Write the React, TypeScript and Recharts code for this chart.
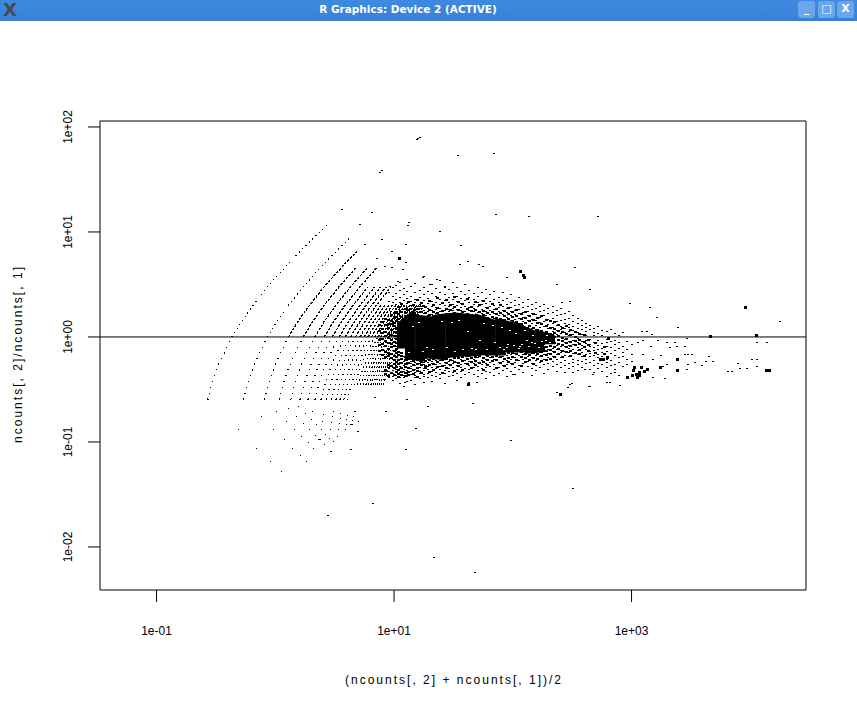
import React from 'react';
import { ScatterChart, Scatter, XAxis, YAxis, ReferenceLine, ReferenceArea } from 'recharts';

const xTicks = [0.1, 10, 1000];
const xTickLabels = ['1e-01', '1e+01', '1e+03'];
const yTicks = [100, 10, 1, 0.1, 0.01];
const yTickLabels = ['1e+02', '1e+01', '1e+00', '1e-01', '1e-02'];
const xDomain = [0.0334, 29450];
const yDomain = [0.00389, 114];

// ratio levels shared by the count arcs
const arcRatios = [0.25, 0.35, 0.5, 0.7, 1, 1.4, 2, 3, 4.5, 6.5, 9, 12];
const arcMeans = [
  [.27,.29,.32,.37,.43,.52,.65,.86,1.18,1.61,2.15,2.8],
  [.54,.58,.65,.73,.86,1.03,1.29,1.72,2.37,3.23,4.3],
  [.81,.87,.97,1.10,1.29,1.55,1.94,2.58,3.55,4.84],
  [1.08,1.16,1.29,1.46,1.72,2.06,2.58,3.44,4.73],
  [1.34,1.45,1.61,1.83,2.15,2.58,3.23,4.3,5.91],
  [1.61,1.74,1.94,2.19,2.58,3.10,3.87,5.16,7.1],
  [1.88,2.03,2.26,2.56,3.01,3.61,4.52,6.02],
  [2.15,2.32,2.58,2.92,3.44,4.13,5.16,6.88],
  [2.42,2.61,2.9,3.29,3.87,4.64,5.81,7.74],
  [2.69,2.9,3.23,3.66,4.3,5.16,6.45,8.6],
  [2.96,3.19,3.55,4.02,4.73,5.68,7.1,9.46],
  [3.23,3.48,3.87,4.39,5.16,6.19,7.74],
  [3.49,3.77,4.19,4.75,5.59,6.71,8.39],
  [3.76,4.06,4.52,5.12,6.02,7.22,9.03],
  [4.03,4.35,4.84,5.48,6.45,7.74,9.68],
];
// these arcs start at the second ratio level
const arcMeansUpper = [
  [4.64,5.16,5.85,6.88,8.26,10.3],
  [4.93,5.48,6.21,7.31,8.77,11],
  [5.22,5.81,6.58,7.74,9.29,11.6],
  [5.51,6.13,6.94,8.17,9.8,12.3],
  [5.8,6.45,7.31,8.6,10.3,12.9],
  [6.09,6.77,7.68,9.03,10.8,13.5],
  [6.39,7.1,8.04,9.46,11.4,14.2],
  [6.68,7.42,8.41,9.89,11.9,14.8],
  [6.95,7.73,8.76,10.3,12.4,15.5],
  [7.26,8.06,9.14,10.75,12.9,16.1],
  [7.56,8.4,9.52,11.2,13.4,16.8],
  [7.83,8.7,9.86,11.6,13.9,17.4],
  [8.1,9,10.2,12,14.4,18],
];

// low-ratio lattice dots: [mean, ratio]
const latticeDots = [
  [.27,.262],[.54,.262],[.81,.262],[1.09,.262],[1.36,.262],[1.63,.262],[1.9,.262],[2.17,.262],[2.44,.262],[2.71,.262],[2.99,.262],[3.26,.262],[3.53,.262],[3.8,.262],
  [.486,.131],[.701,.0873],[.916,.0655],[1.13,.0524],
  [.758,.175],[.973,.131],[1.19,.105],[1.40,.0873],[1.62,.0749],[1.83,.0655],
  [1.03,.197],[1.24,.157],[1.46,.131],[1.67,.112],[1.89,.098],[2.10,.0873],
  [1.30,.21],[1.52,.175],[1.73,.15],[1.95,.131],[2.16,.116],[2.38,.105],[2.59,.095],
  [1.57,.218],[1.79,.187],[2.0,.164],[2.22,.146],[2.43,.131],[2.65,.119],[2.86,.109],[3.08,.101],
  [2.06,.197],[2.49,.157],[2.92,.131],[3.35,.112],
  [2.54,.183],[2.97,.153],[3.4,.131],
  [3.03,.175],[3.46,.15],[3.89,.131],
  [3.09,.197],[3.52,.168],[3.95,.147],
  [3.57,.187],[4.0,.164],[4.43,.146],
  [4.06,.18],[4.49,.16],[4.55,.175],[4.98,.157],
];

// dense core of the cloud, log10 values per column
const coreLogMean = [1.067,1.134,1.219,1.303,1.387,1.472,1.556,1.64,1.724,1.808,1.893,1.977,2.061,2.145,2.23,2.314];
const coreLogTop = [.11,.17,.16,.15,.17,.18,.18,.17,.16,.13,.12,.10,.07,.03,.01,-.02];
const coreLogBottom = [-.11,-.17,-.18,-.16,-.17,-.15,-.14,-.14,-.13,-.13,-.13,-.10,-.10,-.11,-.10,-.07];

// gaps inside the core, log10 pairs
const coreGaps = [[1.58,-.124],[1.78,-.124],[1.28,-.105],[1.49,.133],[1.55,.16],[1.72,-.029],[2.06,-.095],[2.12,-.029],[2.2,.095],[2.28,-.029],[1.85,-.057],[1.96,-.076],[1.89,-.105],[1.45,-.105],[1.33,-.124],[1.62,.05],[1.16,.1],[1.24,-.14],
  [1.66,-.11],[1.69,-.12],[1.93,-.12],[2.01,-.08],[2.03,.03],[2.08,-.07],[2.1,.06],[2.14,-.09],[2.17,.01],[2.19,-.06],[2.22,-.1],[2.25,-.04],[2.27,-.08],[2.29,.01],[2.31,-.05],[1.98,.06],[1.91,.09],[1.83,.11],[1.76,.13],[1.51,-.14],[1.4,.15],[1.21,.14],[1.13,-.15],[2.16,-.05],[2.05,-.11],[1.95,-.1]];

// fringe of the cloud: [log10 mean, log10 ratios in that column]
const fringeColumns: [number, number[]][] = [
  [.96,[-.30,-.33,-.36,-.39,.34,.42]],
  [.99,[.47,.39,.33,-.29,-.32,-.35,-.38,-.41]],
  [1.02,[.49,.41,.36,.31,.27,-.27,-.31,-.33,-.37,-.40]],
  [1.05,[.52,.44,.38,.33,.28,.25,-.21,-.24,-.28,-.30,-.34,-.36,-.39,-.44]],
  [1.08,[.46,.40,.35,.30,.26,-.19,-.23,-.27,-.31,-.33,-.37,-.39,-.47]],
  [1.11,[.55,.43,.37,.32,.28,.25,-.22,-.24,-.26,-.29,-.32,-.35,-.38,-.42]],
  [1.145,[.48,.39,.34,.30,.26,.23,-.23,-.25,-.28,-.30,-.33,-.36,-.41]],
  [1.18,[.51,.42,.36,.33,.28,.25,-.24,-.27,-.31,-.34,-.37,-.39,-.45]],
  [1.215,[.44,.38,.31,.27,.23,-.23,-.25,-.29,-.33,-.35,-.40]],
  [1.25,[.58,.47,.40,.35,.29,.25,.22,-.24,-.26,-.30,-.32,-.36,-.38,-.43]],
  [1.285,[.43,.37,.32,.27,.24,.20,-.21,-.24,-.28,-.31,-.35,-.39]],
  [1.32,[.50,.41,.34,.29,.25,.21,-.20,-.23,-.25,-.29,-.33,-.37,-.42]],
  [1.355,[.46,.39,.33,.28,.26,.22,-.22,-.26,-.30,-.34,-.38]],
  [1.39,[.54,.42,.36,.31,.27,.24,-.22,-.25,-.28,-.31,-.36,-.40]],
  [1.425,[.48,.40,.35,.30,.25,-.21,-.24,-.27,-.32,-.35,-.44]],
  [1.46,[.45,.38,.33,.29,.26,.24,-.20,-.23,-.26,-.30,-.33,-.38]],
  [1.495,[.52,.41,.36,.31,.27,.25,-.19,-.22,-.25,-.29,-.34,-.37]],
  [1.53,[.47,.39,.34,.30,.26,-.19,-.24,-.27,-.31,-.35,-.41]],
  [1.565,[.43,.37,.32,.28,.25,-.18,-.21,-.26,-.29,-.33,-.39]],
  [1.6,[.50,.40,.35,.29,.24,-.18,-.22,-.25,-.30,-.36]],
  [1.635,[.44,.38,.33,.28,.25,-.19,-.23,-.27,-.31,-.34,-.43]],
  [1.67,[.41,.36,.31,.27,.24,-.18,-.21,-.25,-.29,-.36]],
  [1.705,[.47,.39,.33,.29,.23,-.17,-.20,-.24,-.28,-.32,-.38]],
  [1.74,[.42,.35,.31,.26,.22,-.17,-.22,-.26,-.30,-.35]],
  [1.775,[.45,.37,.32,.28,.24,.20,-.18,-.21,-.25,-.29,-.33,-.40]],
  [1.81,[.40,.34,.29,.25,.21,-.17,-.20,-.24,-.28,-.34]],
  [1.845,[.43,.36,.30,.26,.22,.18,-.17,-.21,-.26,-.31,-.37]],
  [1.88,[.38,.33,.28,.24,.20,-.17,-.20,-.24,-.29,-.35]],
  [1.915,[.42,.35,.29,.25,.21,.17,-.16,-.19,-.23,-.27,-.32]],
  [1.95,[.37,.31,.27,.23,.19,-.14,-.18,-.22,-.26,-.30,-.38]],
  [1.985,[.40,.33,.28,.24,.20,.16,-.13,-.17,-.21,-.25,-.33]],
  [2.02,[.35,.30,.25,.21,.17,.14,-.13,-.16,-.20,-.24,-.29,-.36]],
  [2.055,[.38,.31,.26,.22,.18,.13,-.14,-.18,-.22,-.27,-.31]],
  [2.09,[.33,.28,.23,.19,.15,.11,-.14,-.17,-.21,-.25,-.34]],
  [2.125,[.36,.29,.24,.20,.16,.09,-.15,-.19,-.23,-.28]],
  [2.16,[.31,.26,.22,.17,.13,.08,-.16,-.20,-.25,-.30,-.37]],
  [2.195,[.33,.27,.21,.16,.11,.07,-.14,-.18,-.22,-.27,-.32]],
  [2.23,[.29,.24,.19,.14,.09,.05,-.15,-.19,-.24,-.29]],
  [2.265,[.31,.25,.20,.15,.10,.04,-.13,-.17,-.21,-.26,-.35]],
  [2.3,[.27,.22,.17,.12,.08,.03,-.12,-.16,-.20,-.25,-.31]],
  [2.335,[.29,.23,.18,.13,.09,.05,.02,-.11,-.14,-.19,-.23,-.28]],
  [2.37,[.25,.20,.15,.11,.06,.02,-.08,-.12,-.17,-.21,-.26,-.33]],
  [2.405,[.27,.21,.16,.10,.07,.03,-.09,-.13,-.15,-.20,-.24,-.29]],
  [2.44,[.22,.17,.13,.08,.04,-.02,-.05,-.09,-.14,-.18,-.22,-.27,-.34]],
  [2.475,[.24,.18,.12,.09,.05,.01,-.04,-.08,-.11,-.15,-.19,-.25,-.30]],
  [2.51,[.20,.15,.10,.06,.02,-.03,-.07,-.12,-.16,-.21,-.24,-.28]],
  [2.545,[.18,.13,.08,.04,-.01,-.05,-.10,-.13,-.17,-.22,-.26,-.32]],
  [2.58,[.16,.11,.07,.02,-.04,-.08,-.11,-.15,-.19,-.23,-.29]],
  [2.615,[.13,.09,.05,.01,-.03,-.06,-.12,-.17,-.21,-.25]],
  [2.65,[.11,.07,-.02,-.07,-.09,-.14,-.16,-.19,-.24,-.31]],
  [2.685,[.08,.04,.01,-.05,-.10,-.13,-.18,-.22,-.27,-.34]],
  [2.72,[.10,.03,-.03,-.08,-.12,-.17,-.20,-.25,-.30]],
  [2.755,[.06,.01,-.06,-.11,-.15,-.19,-.26,-.33]],
  [2.79,[.05,-.02,-.05,-.09,-.14,-.21,-.24,-.29]],
  [2.825,[.07,-.04,-.10,-.16,-.22,-.27,-.35]],
  [2.86,[.03,-.03,-.07,-.13,-.18,-.26,-.31]],
  [2.895,[.01,-.05,-.11,-.20,-.24,-.37]],
  [2.93,[.04,-.09,-.15,-.19,-.28]],
  [2.965,[-.04,-.12,-.21,-.26]],
  [3.0,[-.07,-.17,-.23]],
];

// the thicker inner band around the core and the merged zone left of it
const bandColumns: [number, number[]][] = [
  [.875,[.11,.06,-.03,-.08,-.13]],
  [.905,[.14,.08,.04,-.02,-.07,-.12,-.17]],
  [.93,[.17,.11,.05,.01,-.04,-.09,-.14,-.19,-.31,-.35]],
  [.955,[.16,.12,.09,.03,-.01,-.06,-.11,-.15,-.18,-.27,-.37]],
  [.98,[.21,.15,.12,.07,.02,-.03,-.07,-.1,-.16,-.2,-.28,-.34]],
  [1.0,[.23,.18,.13,.1,.05,.01,-.05,-.09,-.13,-.18,-.22,-.26,-.3,-.36]],
  [1.02,[.24,.19,.15,.09,.04,-.02,-.06,-.11,-.15,-.19,-.24,-.29,-.33]],
  [1.04,[.29,.22,.17,.13,-.14,-.17,-.22,-.26,-.31,-.35,-.38]],
  [1.065,[.31,.24,.19,.14,-.15,-.18,-.21,-.25,-.3,-.33,-.36]],
  [1.095,[.27,.23,.2,.16,-.19,-.22,-.26,-.29,-.34,-.37]],
  [1.125,[.33,.26,.21,.18,-.18,-.21,-.25,-.3,-.33,-.36]],
  [1.16,[.3,.24,.2,.17,-.2,-.23,-.27,-.31,-.35]],
  [1.195,[.35,.27,.21,-.2,-.22,-.26,-.3,-.32,-.38]],
  [1.23,[.32,.24,.19,-.19,-.24,-.27,-.34]],
  [1.265,[.29,.23,.19,-.2,-.23,-.28,-.3]],
  [1.3,[.34,.26,.21,.18,-.18,-.22,-.27,-.33]],
  [1.335,[.3,.24,.2,-.19,-.21,-.26,-.31]],
  [1.37,[.37,.28,.23,.19,-.2,-.24,-.29]],
  [1.405,[.32,.25,.21,-.19,-.22,-.28,-.34]],
  [1.44,[.35,.27,.22,-.18,-.21,-.25,-.3]],
  [1.475,[.3,.26,.21,-.17,-.22,-.27]],
  [1.51,[.38,.29,.23,.2,-.17,-.2,-.24,-.32]],
  [1.545,[.33,.26,.22,-.16,-.2,-.25,-.28]],
  [1.58,[.31,.24,.21,-.16,-.19,-.23,-.31]],
  [1.615,[.36,.27,.22,-.17,-.21,-.26]],
  [1.65,[.29,.25,.21,-.16,-.2,-.24,-.3]],
  [1.685,[.33,.26,.2,-.16,-.19,-.23,-.27]],
  [1.72,[.3,.24,.19,-.15,-.18,-.25]],
  [1.755,[.34,.25,.21,.18,-.15,-.2,-.24,-.31]],
  [1.79,[.28,.23,.18,-.15,-.18,-.22,-.27]],
  [1.825,[.31,.24,.19,.15,-.15,-.19,-.23]],
  [1.86,[.27,.22,.18,.15,-.15,-.18,-.22,-.3]],
  [1.895,[.3,.23,.17,.14,-.15,-.19,-.25]],
  [1.93,[.25,.2,.16,-.12,-.16,-.21,-.28]],
  [1.965,[.28,.22,.17,.12,-.13,-.15,-.2,-.24]],
  [2.0,[.24,.19,.15,.1,-.12,-.15,-.19,-.26]],
  [2.035,[.26,.2,.14,.09,-.12,-.16,-.22]],
  [2.07,[.22,.17,.12,.08,-.12,-.14,-.19,-.28]],
  [2.105,[.24,.18,.13,.07,-.13,-.16,-.2,-.24]],
  [2.14,[.2,.15,.1,.05,-.13,-.17,-.22]],
  [2.175,[.22,.16,.09,.04,-.12,-.15,-.2,-.26]],
  [2.21,[.18,.13,.07,.03,-.12,-.16,-.21]],
  [2.245,[.2,.12,.06,.02,-.11,-.14,-.18,-.23]],
  [2.28,[.16,.1,.05,.01,-.1,-.13,-.17,-.22]],
  [2.315,[.15,.09,.03,-.01,-.09,-.12,-.16,-.21]],
  [2.35,[.14,.08,.04,0,-.06,-.1,-.14,-.19]],
  [2.385,[.11,.06,.01,-.03,-.07,-.11,-.16]],
  [2.42,[.09,.05,-.01,-.04,-.08,-.13,-.19]],
  [2.455,[.1,.03,-.02,-.06,-.1,-.14]],
  [2.49,[.07,.02,-.05,-.09,-.13,-.18]],
  [2.525,[.05,0,-.04,-.08,-.15]],
  [2.56,[.03,-.03,-.07,-.12,-.16]],
  [2.6,[.02,-.05,-.1,-.18]],
  [2.64,[-.03,-.08,-.13]],
  [2.7,[-.06,-.15]],
  [2.77,[-.1,-.16]],
];

// isolated points, log10 pairs
const looseDots = [
  [1.202,1.886],[1.219,1.895],[1.194,1.876],[1.539,1.733],[1.842,1.743],[.882,1.562],[.899,1.581],[.562,1.21],[.815,1.19],[.714,1.067],
  [1.126,1.086],[1.118,1.057],[.899,.924],[1.101,.876],[.983,.657],[.924,.667],[1.076,.638],[1.101,.705],[.857,.752],[.983,.81],
  [1.034,.524],[.966,.476],[1.859,1.162],[2.137,1.143],[2.718,1.143],[1.564,.867],[1.387,1.0],[1.716,.686],[2.524,.657],[2.372,.495],
  [2.415,.324],[2.65,.448],[1.244,.571],[1.623,.714],[1.749,.667],[1.556,.686],[1.951,.562],[1.429,.467],[1.362,.543],[1.303,.495],[.756,.876],
  [.444,-1.705],[.823,-1.59],[1.337,-2.105],[1.682,-2.248],[2.507,-1.448],[1.985,-.99],[2.372,-.533],[1.699,-.438],[2.002,-.362],[1.109,-.6],
  [1.665,-.629],[1.286,-.667],[2.482,-.457],[2.65,-.476],[1.093,-.438],[.672,-.714],[.932,-.714],[.696,-.905],[.638,-.829],[.368,-.981],
  [.84,-.581],[.638,-1.076],[.47,-1.095],[1.185,-.876],[1.101,-1.076],
  [2.482,.333],[2.987,.314],[3.155,.276],[3.214,.19],[4.25,.143],[3.39,.086],[3.088,.048],[3.13,.048],[3.171,.019],[3.097,-.029],[3.223,-.038],
  [3.298,-.048],[3.366,-.048],[3.467,-.01],[3.45,-.095],[3.383,-.095],[3.163,-.095],[3.324,-.105],[3.055,-.057],[3.097,-.171],[3.45,-.171],
  [3.476,-.171],[3.509,-.171],[3.534,-.248],[3.476,-.267],[3.467,-.314],[3.298,-.267],[3.265,-.286],[3.248,-.181],[3.18,-.219],[3.627,-.229],
  [3.686,-.238],[3.652,-.19],[3.593,-.276],[3.896,-.257],[4.014,-.219],[4.056,-.21],[4.056,-.286],[3.972,-.305],[3.913,-.305],[3.812,-.333],
  [3.846,-.333],[4.056,-.057],[4.139,-.048],[3.282,-.4],[3.18,-.39],[2.794,-.381],[2.794,-.438],[2.819,-.429],[2.903,-.467],[2.642,-.476],
  [2.499,-.448],[2.465,-.486],[2.861,-.343],[2.676,-.362],[2.507,-.343],[2.608,-.314],
];
const heavyDots = [
  [1.042,.752],[2.086,.59],[2.069,.619],[2.095,.562],[2.398,-.552],[1.623,-.457],[3.963,.276],[4.056,.01],[3.669,0],[3.383,-.219],[3.383,-.324],
  [4.139,-.324],[4.164,-.324],[3.248,-.295],[2.802,-.01],[2.97,-.39],[3.004,-.371],[3.038,-.362],[3.071,-.343],[3.105,-.333],[3.138,-.314],
  [3.071,-.371],[3.046,-.39],[3.013,-.324],[3.088,-.295],[3.029,-.295],[2.735,-.219],[2.76,-.219],[2.794,-.2],
];

const fromLog = (pairs: number[][]) => pairs.map(([a, b]) => ({ x: 10 ** a, y: 10 ** b }));
const fromLinear = (pairs: number[][]) => pairs.map(([a, b]) => ({ x: a, y: b }));
const flatten = (cols: [number, number[]][]) => fromLog(cols.flatMap(([m, rs]) => rs.map((r) => [m, r])));
const fringeRows = flatten(fringeColumns);
const bandRows = flatten(bandColumns);
const coreRows = fromLog(
  coreLogMean.flatMap((m, i) =>
    i % 2 === 0
      ? [[m, coreLogBottom[i]], [m, coreLogTop[i]]]
      : [[m, coreLogTop[i]], [m, coreLogBottom[i]]]
  )
);
const allArcs = [
  ...arcMeans.map((means) => ({ means, ratios: arcRatios })),
  ...arcMeansUpper.map((means) => ({ means, ratios: arcRatios.slice(1) })),
];
const arcParts = allArcs.map(({ means, ratios }) => {
  const rows = means.map((m, i) => ({ x: m, y: ratios[i] }));
  const split = rows.findIndex((r) => r.y === 1);
  return { lower: rows.slice(0, split + 1), upper: rows.slice(split) };
});

const dot = (w: number, h: number, fill: string) => (p: any) =>
  p.cx == null ? <g /> : <rect x={p.cx - w / 2} y={p.cy - h / 2} width={w} height={h} fill={fill} shapeRendering="crispEdges" />;
const none = () => <g />;
const font = '"Liberation Sans", Arial, sans-serif';

const XTick = (p: any) => (
  <text x={p.x} y={p.y} textAnchor="middle" dominantBaseline="middle" fontSize={12} fontFamily={font} fill="#000">
    {xTickLabels[p.index]}
  </text>
);
const YTick = (p: any) => (
  <text x={p.x} y={p.y} textAnchor="middle" dominantBaseline="middle" fontSize={12} fontFamily={font} fill="#000"
    transform={`rotate(-90 ${p.x} ${p.y})`}>
    {yTickLabels[p.index]}
  </text>
);

export default function App() {
  return (
    <div style={{ position: 'absolute', left: 0, top: 0, width: 857, height: 715, background: '#fff', overflow: 'hidden' }}>
      <div style={{ position: 'absolute', left: 0, top: 0, width: 857, height: 21, background: 'linear-gradient(#3f8ae0,#3880d8)' }}>
        <div style={{ position: 'absolute', left: 3, top: 0, fontFamily: '"DejaVu Sans"', fontWeight: 700, fontSize: 18, lineHeight: '20px', color: '#47494f' }}>X</div>
        <div style={{ position: 'absolute', left: 0, width: 816, top: 0, textAlign: 'center', fontFamily: '"DejaVu Sans"', fontWeight: 700, fontSize: 10.5, lineHeight: '19px', color: '#fff' }}>
          R Graphics: Device 2 (ACTIVE)
        </div>
        {[['_', 798], ['□', 818], ['X', 837]].map(([g, l]) => (
          <div key={g as string} style={{ position: 'absolute', left: l as number, top: 1, width: 17, height: 17, borderRadius: 3, background: '#6ba5ea', color: '#fff', textAlign: 'center', fontFamily: '"DejaVu Sans"', fontWeight: 700, fontSize: 11, lineHeight: '16px' }}>
            {g}
          </div>
        ))}
      </div>
      <ScatterChart width={857} height={715} margin={{ top: 121, right: 51, bottom: 0, left: 0 }}>
        <XAxis type="number" dataKey="x" scale="log" domain={xDomain} ticks={xTicks} interval={0} allowDataOverflow
          height={125} tickSize={12} tickMargin={30} tick={XTick} stroke="#000" axisLine={false} />
        <YAxis type="number" dataKey="y" scale="log" domain={yDomain} ticks={yTicks} interval={0} allowDataOverflow
          width={100} tickSize={12} tickMargin={19} tick={YTick} stroke="#000" axisLine={false} />
        {arcParts.map((arc, i) => (
          <Scatter key={`l${i}`} data={arc.lower} shape={none} isAnimationActive={false}
            line={{ stroke: '#000', strokeWidth: 1.2, shapeRendering: 'crispEdges', strokeDasharray: i < 8 ? '1.2 5' : i < 16 ? '1.2 4' : '1.5 3' }} lineType="joint" />
        ))}
        {arcParts.map((arc, i) => (
          <Scatter key={`u${i}`} data={arc.upper} shape={none} isAnimationActive={false}
            line={{ stroke: '#000', strokeWidth: i < 2 ? 1 : 1.3, shapeRendering: 'crispEdges', strokeDasharray: i < 2 ? '1.2 3.5' : '2.5 1.5' }} lineType="joint" />
        ))}
        <Scatter data={coreRows} shape={none} isAnimationActive={false}
          line={{ stroke: '#000', strokeWidth: 10 }} lineType="joint" />
        <Scatter data={bandRows} shape={dot(3, 2, '#000')} isAnimationActive={false} />
        <Scatter data={fromLog(coreGaps)} shape={dot(2, 1, '#fff')} isAnimationActive={false} />
        <Scatter data={fringeRows} shape={dot(2, 1, '#000')} isAnimationActive={false} />
        <Scatter data={fromLinear(latticeDots)} shape={dot(1, 1, '#000')} isAnimationActive={false} />
        <Scatter data={fromLog(looseDots)} shape={dot(2, 1, '#000')} isAnimationActive={false} />
        <Scatter data={fromLog(heavyDots)} shape={dot(3, 3, '#000')} isAnimationActive={false} />
        <ReferenceLine y={1} stroke="#000" strokeWidth={1} />
        <ReferenceArea x1={xDomain[0]} x2={xDomain[1]} y1={yDomain[0]} y2={yDomain[1]} fill="none" stroke="#000" strokeWidth={1} fillOpacity={0} strokeOpacity={1} />
        <text x={453} y={681} textAnchor="middle" dominantBaseline="middle" fontSize={12} fontFamily={font} textLength={216} lengthAdjust="spacing">
          (ncounts[, 2] + ncounts[, 1])/2
        </text>
        <text x={19} y={355} textAnchor="middle" dominantBaseline="middle" fontSize={12} fontFamily={font} textLength={176} lengthAdjust="spacing" transform="rotate(-90 19 355)">
          ncounts[, 2]/ncounts[, 1]
        </text>
      </ScatterChart>
    </div>
  );
}
